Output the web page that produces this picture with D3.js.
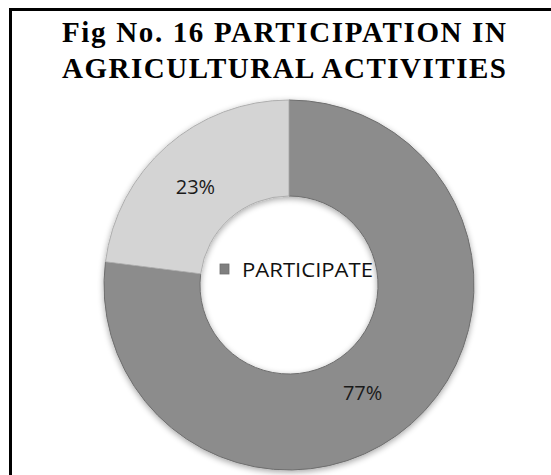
<!DOCTYPE html>
<html lang="en">
<head>
<meta charset="utf-8">
<title>Participation in agricultural activities</title>
<script src="https://cdn.jsdelivr.net/npm/d3@7"></script>
<style>
  html, body { margin: 0; padding: 0; background: #fff; }
  svg { display: block; }
</style>
</head>
<body>
<svg width="551" height="475"></svg>
<script>

// data
const titleLines = ["Fig No. 16 PARTICIPATION IN", "AGRICULTURAL ACTIVITIES"];
const categories = ["PARTICIPATE", "NOT PARTICIPATE"];
const shares = [77, 23];
const legendItems = ["PARTICIPATE"];

const W = 551, H = 475;
const cx = 289, cy = 285;
const rOuter = 185, rInner = 89;

const svg = d3.select("svg");
const defs = svg.append("defs");

// soft drop shadow under the ring
const shadow = defs.append("filter").attr("id", "shadow")
  .attr("x", "-10%").attr("y", "-10%").attr("width", "120%").attr("height", "120%");
shadow.append("feGaussianBlur").attr("in", "SourceAlpha").attr("stdDeviation", 3).attr("result", "b");
shadow.append("feOffset").attr("dx", 0).attr("dy", 2).attr("result", "o");
shadow.append("feComponentTransfer").append("feFuncA").attr("type", "linear").attr("slope", 0.35);
const merge = shadow.append("feMerge");
merge.append("feMergeNode");
merge.append("feMergeNode").attr("in", "SourceGraphic");

// bevel-ish radial gradients, one per slice
const colors = d3.scaleOrdinal().domain(categories).range(["#7f7f7f", "#c9c9c9"]);
const edges = { "PARTICIPATE": ["#a3a3a3", "#858585", "#7f7f7f", "#7a7a7a", "#8c8c8c"],
                "NOT PARTICIPATE": ["#e3e3e3", "#cdcdcd", "#c9c9c9", "#c4c4c4", "#d4d4d4"] };
categories.forEach((c, i) => {
  const g = defs.append("radialGradient").attr("id", "grad" + i)
    .attr("gradientUnits", "userSpaceOnUse")
    .attr("cx", cx).attr("cy", cy).attr("r", rOuter);
  const st = [rInner / rOuter, rInner / rOuter + 0.06, 0.6, 0.93, 1];
  edges[c].forEach((col, k) => g.append("stop").attr("offset", st[k]).attr("stop-color", col));
});

// frame (only the left and top edges fall inside the picture)
svg.append("rect")
  .attr("x", 10.5).attr("y", 9.5)
  .attr("width", W + 50).attr("height", H + 50)
  .attr("fill", "none").attr("stroke", "#000").attr("stroke-width", 3);

// title
svg.append("g").selectAll("text")
  .data(titleLines)
  .join("text")
  .attr("x", 284)
  .attr("y", (d, i) => 42 + i * 36)
  .attr("text-anchor", "middle")
  .attr("textLength", 444)
  .attr("lengthAdjust", "spacing")
  .style("font-family", "'Liberation Serif', 'Times New Roman', serif")
  .style("font-weight", "bold")
  .style("font-size", "29px")
  .attr("fill", "#000")
  .text(d => d);

// donut
const pie = d3.pie().sort(null).value(d => d.value);
const arc = d3.arc().innerRadius(rInner).outerRadius(rOuter);
const labelArc = d3.arc().innerRadius((rInner + rOuter) / 2).outerRadius((rInner + rOuter) / 2);

const data = categories.map((c, i) => ({ name: c, value: shares[i] }));
const arcs = pie(data);

const ring = svg.append("g").attr("transform", `translate(${cx},${cy})`);

ring.append("g").attr("filter", "url(#shadow)")
  .selectAll("path")
  .data(arcs)
  .join("path")
  .attr("d", arc)
  .attr("fill", (d, i) => `url(#grad${i})`)
  .attr("stroke", (d) => d3.color(colors(d.data.name)).darker(0.4))
  .attr("stroke-width", 1);

// percentage labels
ring.selectAll("text.pct")
  .data(arcs)
  .join("text")
  .attr("class", "pct")
  .attr("transform", d => {
    const [x, y] = labelArc.centroid(d);
    return `translate(${x - (d.index === 0 ? 17 : 3)},${y + 12})`;
  })
  .attr("text-anchor", "middle")
  .style("font-family", "'Open Sans', 'Liberation Sans', sans-serif")
  .style("font-size", "20px")
  .attr("fill", "#1a1a1a")
  .text(d => d.data.value + "%");

// legend in the hole
const legend = svg.append("g").attr("transform", "translate(220,264)");
legend.selectAll("rect")
  .data(legendItems)
  .join("rect")
  .attr("x", 0).attr("y", 0)
  .attr("width", 9).attr("height", 10)
  .attr("fill", colors(legendItems[0]))
  .attr("stroke", "#6e6e6e").attr("stroke-width", 0.8);
legend.selectAll("text")
  .data(legendItems)
  .join("text")
  .attr("x", 22).attr("y", 13)
  .attr("textLength", 131)
  .attr("lengthAdjust", "spacingAndGlyphs")
  .style("font-family", "'Open Sans', 'Liberation Sans', sans-serif")
  .style("font-size", "20px")
  .attr("fill", "#111")
  .text(d => d);

</script>
</body>
</html>
